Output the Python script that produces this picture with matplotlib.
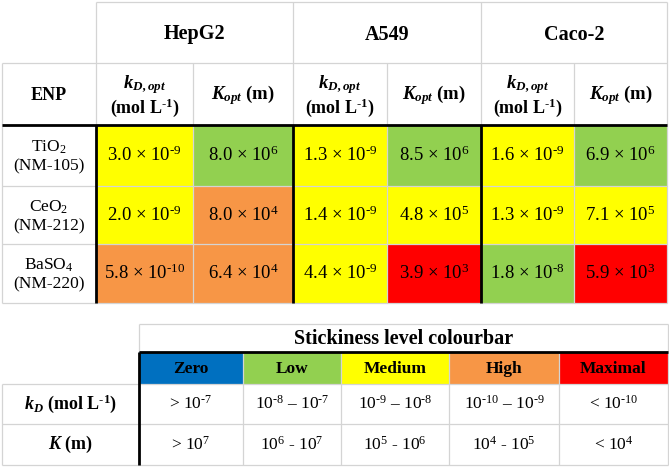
import matplotlib.pyplot as plt
from matplotlib.patches import Rectangle

plt.rcParams['font.family'] = ['Liberation Serif', 'DejaVu Serif']
plt.rcParams['mathtext.fontset'] = 'custom'
plt.rcParams['mathtext.rm'] = 'Liberation Serif'
plt.rcParams['mathtext.it'] = 'Liberation Serif:italic'
plt.rcParams['mathtext.bf'] = 'Liberation Serif:bold'
plt.rcParams['mathtext.bfit'] = 'Liberation Serif:bold:italic'

# data
cell_lines = ['HepG2', 'A549', 'Caco-2']
enp_names = ['TiO$_2$', 'CeO$_2$', 'BaSO$_4$']
enp_codes = ['(NM-105)', '(NM-212)', '(NM-220)']
# one list per cell line, ENPs in order TiO2, CeO2, BaSO4
kd_opt = [[3.0e-9, 2.0e-9, 5.8e-10],
          [1.3e-9, 1.4e-9, 4.4e-9],
          [1.6e-9, 1.3e-9, 1.8e-8]]
k_opt = [[8.0e6, 8.0e4, 6.4e4],
         [8.5e6, 4.8e5, 3.9e3],
         [6.9e6, 7.1e5, 5.9e3]]

levels = ['Zero', 'Low', 'Medium', 'High', 'Maximal']
level_colors = ['#0070C0', '#92D050', '#FFFF00', '#F79646', '#FF0000']
kd_thresholds = [1e-7, 1e-8, 1e-9, 1e-10]
k_thresholds = [1e7, 1e6, 1e5, 1e4]
HY = '\u2010'  # short hyphen for exponents
kd_ranges = [f'> 10$^{{{HY}7}}$', f'10$^{{{HY}8}}$ – 10$^{{{HY}7}}$',
             f'10$^{{{HY}9}}$ – 10$^{{{HY}8}}$', f'10$^{{{HY}10}}$ – 10$^{{{HY}9}}$',
             f'< 10$^{{{HY}10}}$']
k_ranges = ['> 10$^{7}$', '10$^{6}$ - 10$^{7}$', '10$^{5}$ - 10$^{6}$',
            '10$^{4}$ - 10$^{5}$', '< 10$^{4}$']


def level_of(v, thresholds):
    return sum(v < t for t in thresholds)


def sci(v):
    m, e = f'{v:.1e}'.split('e')
    e = int(e)
    exp = f'{HY}{abs(e)}' if e < 0 else str(e)
    return f'{m} × 10$^{{{exp}}}$'


GRAY = '#D4D4D4'
thin = 0.9
thick = 2.0
W, H = 669, 467

fig = plt.figure(figsize=(W / 100, H / 100), dpi=100)
ax = fig.add_axes([0, 0, 1, 1])
ax.set_xlim(0, W)
ax.set_ylim(H, 0)
ax.axis('off')


def hline(y, x0, x1, lw=thin, c=GRAY):
    ax.plot([x0, x1], [y, y], color=c, lw=lw, solid_capstyle='butt', zorder=3 if c == GRAY else 4)


def vline(x, y0, y1, lw=thin, c=GRAY):
    ax.plot([x, x], [y0, y1], color=c, lw=lw, solid_capstyle='butt', zorder=3 if c == GRAY else 4)


# ---------- top table ----------
col_x = [2, 96, 193, 293, 387, 481, 574, 667]
row_y = [2, 63, 125, 186, 244, 303]
fs = 13.5
hfs = 13.5

for i, name in enumerate(cell_lines):
    xa, xb, xc = col_x[1 + 2 * i], col_x[2 + 2 * i], col_x[3 + 2 * i]
    ax.text((xa + xc) / 2, (row_y[0] + row_y[1]) / 2 + 2, name, ha='center', va='center',
            fontsize=14.5, fontweight='bold')
    ym = (row_y[1] + row_y[2]) / 2
    ax.text((xa + xb) / 2, ym - 9, r'$\mathbfit{k}_{\mathbfit{D,opt}}$', ha='center',
            va='center', fontsize=hfs, fontweight='bold')
    ax.text((xa + xb) / 2, ym + 14, f'(mol L$^{{\\mathbf{{{HY}1}}}}$)', ha='center',
            va='center', fontsize=13, fontweight='bold')
    ax.text((xb + xc) / 2, ym + 1, r'$\mathbfit{K}_{\mathbfit{opt}}$ (m)', ha='center',
            va='center', fontsize=hfs, fontweight='bold')
    for j in range(3):
        y0, y1 = row_y[2 + j], row_y[3 + j]
        for (x0, x1), v, th in [((xa, xb), kd_opt[i][j], kd_thresholds),
                                ((xb, xc), k_opt[i][j], k_thresholds)]:
            ax.add_patch(Rectangle((x0, y0), x1 - x0, y1 - y0,
                                   color=level_colors[level_of(v, th)], lw=0, zorder=1))
            ax.text((x0 + x1) / 2, (y0 + y1) / 2, sci(v), ha='center', va='center',
                    fontsize=fs, zorder=5)

ax.text((col_x[0] + col_x[1]) / 2, (row_y[1] + row_y[2]) / 2 + 1, 'ENP', ha='center',
        va='center', fontsize=13, fontweight='bold')
for j in range(3):
    ym = (row_y[2 + j] + row_y[3 + j]) / 2
    ax.text((col_x[0] + col_x[1]) / 2, ym - 8, enp_names[j], ha='center', va='center', fontsize=12.5)
    ax.text((col_x[0] + col_x[1]) / 2, ym + 11, enp_codes[j], ha='center', va='center', fontsize=12.5)

hline(row_y[0], col_x[1], col_x[-1])
hline(row_y[1], col_x[0], col_x[-1])
for y in row_y[3:]:
    hline(y, col_x[0], col_x[-1])
vline(col_x[0], row_y[1], row_y[-1])
vline(col_x[-1], row_y[0], row_y[-1])
for k in (1, 3, 5):
    vline(col_x[k], row_y[0], row_y[2])
    vline(col_x[k], row_y[2], row_y[-1], lw=thick, c='black')
for k in (2, 4, 6):
    vline(col_x[k], row_y[1], row_y[-1])
hline(row_y[2], col_x[0], col_x[-1], lw=thick, c='black')

# ---------- colourbar legend table ----------
bx = [2, 139, 243, 341, 449, 559, 668]
by = [324, 352, 384, 424, 465]

ax.text((bx[1] + bx[-1]) / 2, (by[0] + by[1]) / 2 + 1, 'Stickiness level colourbar',
        ha='center', va='center', fontsize=14.5, fontweight='bold')
for i, lev in enumerate(levels):
    x0, x1 = bx[1 + i], bx[2 + i]
    ax.add_patch(Rectangle((x0, by[1]), x1 - x0, by[2] - by[1], color=level_colors[i], lw=0, zorder=1))
    ax.text((x0 + x1) / 2, (by[1] + by[2]) / 2 + 1, lev, ha='center', va='center',
            fontsize=12.5, fontweight='bold', zorder=5)
    ax.text((x0 + x1) / 2, (by[2] + by[3]) / 2, kd_ranges[i], ha='center', va='center', fontsize=12.5)
    ax.text((x0 + x1) / 2, (by[3] + by[4]) / 2, k_ranges[i], ha='center', va='center', fontsize=12.5)

ax.text((bx[0] + bx[1]) / 2, (by[2] + by[3]) / 2,
        f'$\\mathbfit{{k}}_{{\\mathbfit{{D}}}}$ (mol L$^{{\\mathbf{{{HY}1}}}}$)',
        ha='center', va='center', fontsize=13, fontweight='bold')
ax.text((bx[0] + bx[1]) / 2, (by[3] + by[4]) / 2, r'$\mathbfit{K}$ (m)',
        ha='center', va='center', fontsize=13, fontweight='bold')

hline(by[0], bx[1], bx[-1])
for y in by[2:]:
    hline(y, bx[0], bx[-1])
vline(bx[0], by[2], by[4])
vline(bx[1], by[0], by[1])
vline(bx[-1], by[0], by[4])
for x in bx[2:-1]:
    vline(x, by[1], by[4])
hline(by[1], bx[1], bx[-1], lw=thick, c='black')
vline(bx[1], by[1], by[4], lw=thick, c='black')

fig.savefig('out.png', dpi=100)
